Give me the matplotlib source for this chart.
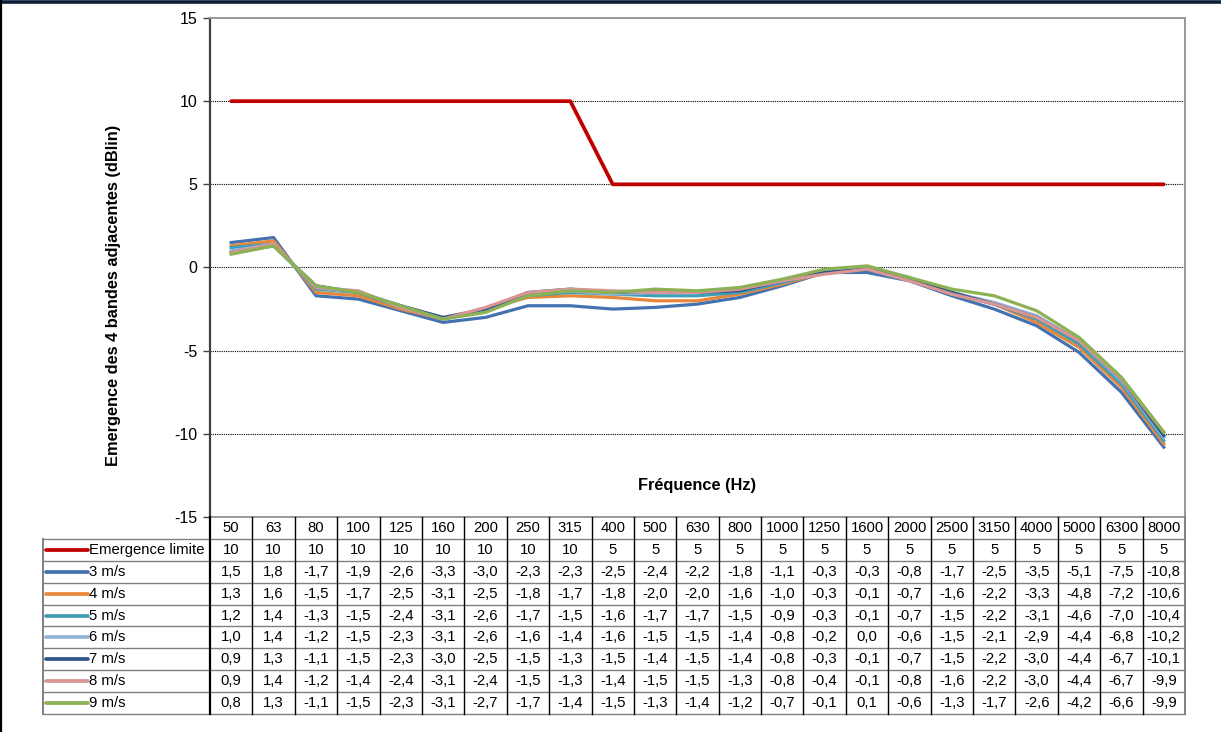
import matplotlib
matplotlib.use("Agg")
import matplotlib.pyplot as plt
from matplotlib.lines import Line2D

plt.rcParams['font.family'] = ['Liberation Sans', 'DejaVu Sans']
plt.rcParams['axes.unicode_minus'] = False

freqs = ['50', '63', '80', '100', '125', '160', '200', '250', '315', '400', '500', '630',
         '800', '1000', '1250', '1600', '2000', '2500', '3150', '4000', '5000', '6300', '8000']
limite = [10, 10, 10, 10, 10, 10, 10, 10, 10, 5, 5, 5, 5, 5, 5, 5, 5, 5, 5, 5, 5, 5, 5]
v3 = [1.5, 1.8, -1.7, -1.9, -2.6, -3.3, -3.0, -2.3, -2.3, -2.5, -2.4, -2.2, -1.8, -1.1, -0.3, -0.3, -0.8, -1.7, -2.5, -3.5, -5.1, -7.5, -10.8]
v4 = [1.3, 1.6, -1.5, -1.7, -2.5, -3.1, -2.5, -1.8, -1.7, -1.8, -2.0, -2.0, -1.6, -1.0, -0.3, -0.1, -0.7, -1.6, -2.2, -3.3, -4.8, -7.2, -10.6]
v5 = [1.2, 1.4, -1.3, -1.5, -2.4, -3.1, -2.6, -1.7, -1.5, -1.6, -1.7, -1.7, -1.5, -0.9, -0.3, -0.1, -0.7, -1.5, -2.2, -3.1, -4.6, -7.0, -10.4]
v6 = [1.0, 1.4, -1.2, -1.5, -2.3, -3.1, -2.6, -1.6, -1.4, -1.6, -1.5, -1.5, -1.4, -0.8, -0.2, 0.0, -0.6, -1.5, -2.1, -2.9, -4.4, -6.8, -10.2]
v7 = [0.9, 1.3, -1.1, -1.5, -2.3, -3.0, -2.5, -1.5, -1.3, -1.5, -1.4, -1.5, -1.4, -0.8, -0.3, -0.1, -0.7, -1.5, -2.2, -3.0, -4.4, -6.7, -10.1]
v8 = [0.9, 1.4, -1.2, -1.4, -2.4, -3.1, -2.4, -1.5, -1.3, -1.4, -1.5, -1.5, -1.3, -0.8, -0.4, -0.1, -0.8, -1.6, -2.2, -3.0, -4.4, -6.7, -9.9]
v9 = [0.8, 1.3, -1.1, -1.5, -2.3, -3.1, -2.7, -1.7, -1.4, -1.5, -1.3, -1.4, -1.2, -0.7, -0.1, 0.1, -0.6, -1.3, -1.7, -2.6, -4.2, -6.6, -9.9]

series_names = ['3 m/s', '4 m/s', '5 m/s', '6 m/s', '7 m/s', '8 m/s', '9 m/s']
series_vals = [v3, v4, v5, v6, v7, v8, v9]
series_colors = ['#4472B0', '#E8873A', '#3FA0B5', '#95B3D7', '#2F5688', '#D99694', '#8DB255']
limite_color = '#C00000'

W, H = 1221, 732
fig = plt.figure(figsize=(W / 100, H / 100), dpi=100)


def px_box(x0, y0, x1, y1):
    return [x0 / W, 1 - y1 / H, (x1 - x0) / W, (y1 - y0) / H]


# ---- chart ----
ax = fig.add_axes(px_box(210, 18, 1185, 517))
x = list(range(len(freqs)))
ax.plot(x, limite, color=limite_color, lw=2.7, solid_capstyle='round', zorder=3)
for vals, col in zip(series_vals, series_colors):
    ax.plot(x, vals, color=col, lw=2.3, solid_joinstyle='round', zorder=3)

ax.set_xlim(-0.5, len(freqs) - 0.5)
ax.set_ylim(-15, 15)
ax.set_yticks([-15, -10, -5, 0, 5, 10, 15])
ax.set_xticks([])
for yv in [-10, -5, 0, 5, 10]:
    ax.axhline(yv, color='black', lw=0.8, ls=(0, (1, 1)), zorder=1)
ax.tick_params(axis='y', direction='out', length=5, width=1, color='#404040',
               labelsize=11.5, pad=4)
ax.spines['left'].set_color('#404040')
ax.spines['left'].set_linewidth(1.6)
for s in ['top', 'right', 'bottom']:
    ax.spines[s].set_color('#999999')
    ax.spines[s].set_linewidth(1.4)
ax.text(0.5, 0.064, 'Fréquence (Hz)', transform=ax.transAxes, ha='center', va='center',
        fontsize=11.8, fontweight='bold')
fig.text(114 / W, 1 - 295 / H, 'Emergence des 4 bandes adjacentes (dBlin)', rotation=90,
         ha='center', va='center', fontsize=11.8, fontweight='bold')

# ---- data table below ----
n = len(freqs)
colw = 975 / n
lab_w = (210 - 43) / colw
tx = fig.add_axes(px_box(43, 517, 1185, 714))
tx.set_xlim(-0.5 - lab_w, n - 0.5)
tx.set_ylim(9, 0)
tx.axis('off')

row_names = ['Emergence limite'] + series_names
row_colors = [limite_color] + series_colors
row_texts = [[str(v) for v in limite]] + \
    [[f'{v:.1f}'.replace('.', ',') for v in vals] for vals in series_vals]

fs = 10.7
for i, f in enumerate(freqs):
    tx.text(i, 0.5, f, ha='center', va='center', fontsize=fs)
for r, (name, col, texts) in enumerate(zip(row_names, row_colors, row_texts), start=1):
    x0 = -0.5 - lab_w
    tx.plot([x0 + 0.06, x0 + 1.05], [r + 0.5, r + 0.5], color=col, lw=2.7,
            solid_capstyle='round', clip_on=False)
    tx.text(x0 + 1.08, r + 0.5, name, ha='left', va='center', fontsize=fs)
    for i, t in enumerate(texts):
        tx.text(i, r + 0.5, t, ha='center', va='center', fontsize=fs)

# grid of the table
gray = '#808080'
for r in range(1, 10):
    tx.plot([-0.5 - lab_w, n - 0.5], [r, r], color=gray, lw=1.0, clip_on=False)
for i in range(1, n):
    tx.plot([i - 0.5, i - 0.5], [0, 9], color='black', lw=1.0, clip_on=False)
tx.plot([-0.5, -0.5], [0, 9], color='black', lw=1.6, clip_on=False)
tx.plot([n - 0.5, n - 0.5], [0, 9], color=gray, lw=1.4, clip_on=False)
tx.plot([-0.5 - lab_w, -0.5 - lab_w], [1, 9], color=gray, lw=1.4, clip_on=False)

# outer frame of the picture
fig.add_artist(Line2D([0, 1], [1 - 1.5 / H, 1 - 1.5 / H], transform=fig.transFigure,
                      color='#0B1E3A', lw=2.6))
fig.add_artist(Line2D([1 / W, 1 / W], [0, 1], transform=fig.transFigure,
                      color='black', lw=1.6))

fig.savefig('out.png', dpi=100)
